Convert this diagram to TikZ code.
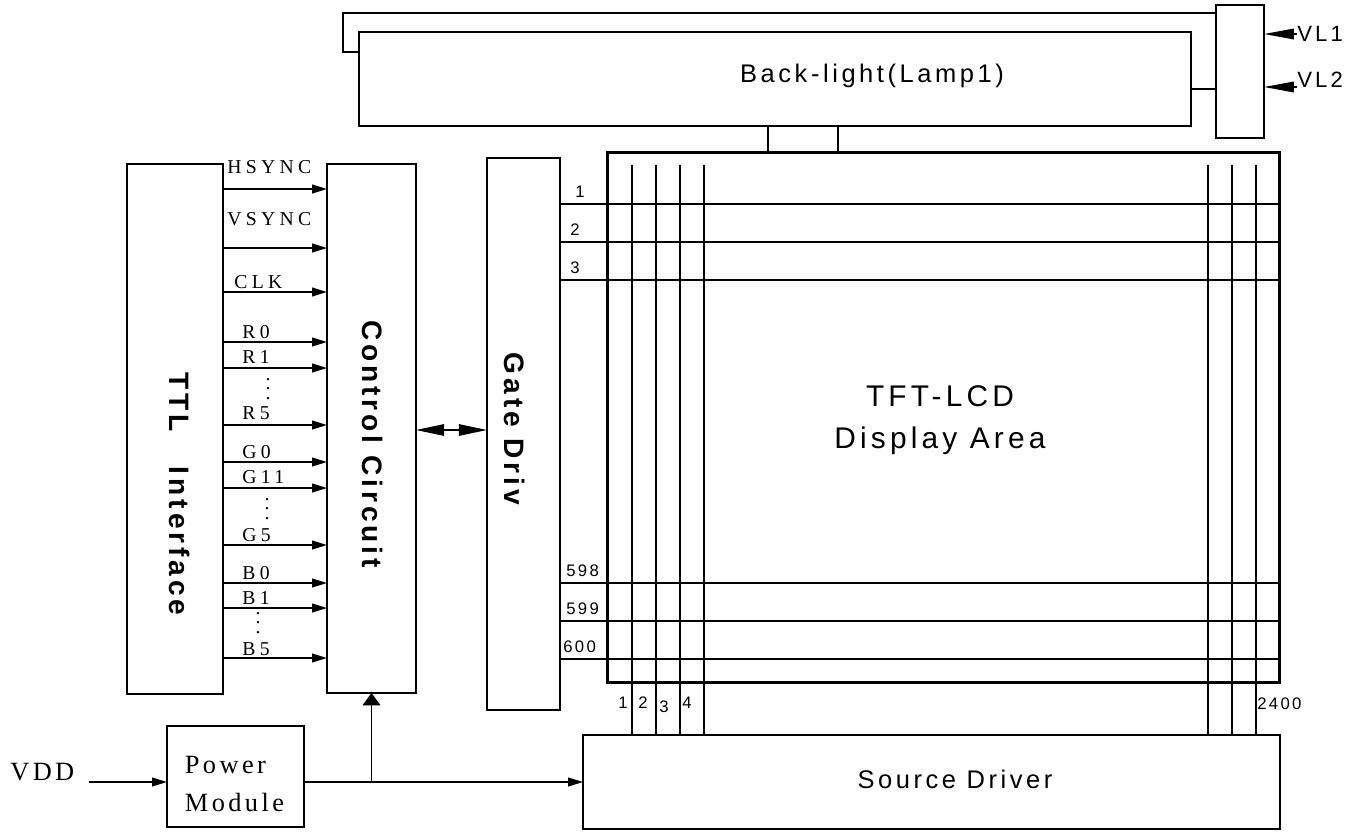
\documentclass[tikz,border=0pt]{standalone}
\usepackage{fontspec}
\setmainfont{Liberation Serif}
\setsansfont{Liberation Sans}
\newfontfamily\sigfont[LetterSpace=22]{Liberation Serif}
\newfontfamily\pwrfont[LetterSpace=13]{Liberation Serif}
\newfontfamily\boxfont[LetterSpace=14]{Liberation Sans}
\newfontfamily\vertfont[LetterSpace=14]{Liberation Sans}
\usetikzlibrary{arrows.meta}
\newcommand\vdotsig{\vbox{\baselineskip=5.4pt\hbox{.}\hbox{.}\hbox{.}}}
\tikzset{
  blk/.style    = {draw, line width=1.1pt, inner sep=0pt, outer sep=0pt},
  wire/.style   = {line width=1.1pt},
  gline/.style  = {line width=0.9pt},
  sig/.style    = {-{Triangle[length=8.5pt,width=5pt]}, line width=0.9pt},
  duo/.style    = {{Triangle[length=16pt,width=6.5pt]}-{Triangle[length=16pt,width=6.5pt]}, line width=0.9pt},
  uparr/.style  = {-{Triangle[length=7pt,width=10pt]}, line width=0.9pt},
  vlarr/.style  = {-{Triangle[length=17pt,width=6pt]}, line width=0.9pt},
  siglab/.style = {anchor=base west, inner sep=0pt, font=\sigfont\fontsize{11.2}{12}\selectfont},
  pwrlab/.style = {font=\pwrfont\fontsize{15}{22}\selectfont},
  numlab/.style = {anchor=base west, inner sep=0pt, font=\boxfont\fontsize{9.5}{11}\selectfont},
  vlab/.style   = {rotate=-90, inner sep=0pt, font=\vertfont\bfseries\fontsize{16}{18}\selectfont},
}

\begin{document}
\begin{tikzpicture}[x=0.02cm, y=-0.02cm]
        \useasboundingbox (0,0) rectangle (1367,832);
        \node[blk, minimum width=16.64cm, minimum height=1.88cm] (lamp) at (775,79) {};
        \node[font=\boxfont\fontsize{14.5}{17}\selectfont] (lamptxt) at (872,76) {Back-light(Lamp1)};
        \node[blk, minimum width=0.96cm, minimum height=2.66cm] (inv) at (1240,71.5) {};
        \node[anchor=west, inner sep=0pt, font=\boxfont\fontsize{12.6}{14}\selectfont] (vl1) at (1297,34) {VL1};
        \node[anchor=base west, inner sep=0pt, font=\boxfont\fontsize{12.6}{14}\selectfont] (vl2) at (1297,87) {VL2};
        \draw[vlarr] (vl1.west) -- (inv.east |- vl1.west);
        \draw[vlarr] (vl2.base west) -- (inv.east |- vl2.base west);
        \draw[wire] (lamp.west |- 0,52) -- (343,52) -- (343,13) -- (inv.west |- 0,13);
        \draw[wire] (lamp.east |- 0,89) -- (inv.west |- 0,89);

        \node[blk, minimum width=1.92cm, minimum height=10.6cm] (ttl) at (175,429) {};
        \node[vlab] (ttltxt) at (180,494) {TTL\hspace{20pt}Interface};
        \node[blk, minimum width=1.78cm, minimum height=10.58cm] (ctrl) at (371.5,428.5) {};
        \node[vlab] (ctrltxt) at (373,444) {Control Circuit};
        \node[blk, minimum width=1.46cm, minimum height=11.04cm] (gate) at (523.5,434) {};
        \node[vlab] (gatetxt) at (515,429) {Gate Driv};
        \node[blk, line width=1.7pt, minimum width=13.46cm, minimum height=10.62cm] (lcd) at (943.5,417.5) {};
        \node[align=center, font=\boxfont\fontsize{17}{23.8}\selectfont] (lcdtxt) at (940,420) {TFT-LCD\\Display Area};
        \node[blk, minimum width=13.94cm, minimum height=1.88cm] (src) at (931.5,782) {};
        \node[font=\boxfont\fontsize{14.5}{17}\selectfont] (srctxt) at (955,779) {Source Driver};
        \node[blk, minimum width=2.74cm, minimum height=2.02cm] (pwr) at (235.5,776.5) {};
        \node[pwrlab, align=left] (pwrtxt) at (234.5,784) {Power\\Module};
        \node[pwrlab, anchor=base west, inner sep=0pt] (vdd) at (10,780) {VDD};

        \foreach \x in {768,838}
            \draw[wire] (lamp.south -| \x,0) -- (lcd.north -| \x,0);

        \foreach \y/\t/\lx/\ly [count=\i] in {189/HSYNC/227/173, 248/VSYNC/227/225, 292/CLK/234/288,
                342/R0/242/338, 368/R1/242/363, 425/R5/242/419, 462/G0/242/458, 488/G11/242/483,
                545/G5/242/541, 583/B0/242/579, 608/B1/242/604, 658/B5/242/655}{
            \draw[sig] (ttl.east |- 0,\y) -- (ctrl.west |- 0,\y);
            \node[siglab] (s\i) at (\lx,\ly) {\t};
        }
        \foreach \x/\y [count=\i] in {268/389, 267/509, 258/623}
            \node[siglab, anchor=center] (d\i) at (\x,\y) {\vdotsig};

        \draw[duo] (ctrl.east |- 0,430) -- (gate.west |- 0,430);

        \foreach \y/\t/\lx/\ly [count=\i] in {204/1/575/197, 242/2/570/235, 280/3/570/273,
                583/598/566/576, 621/599/566/614, 659/600/563/652}{
            \draw[gline] (gate.east |- 0,\y) -- (lcd.east |- 0,\y);
            \node[numlab] (g\i) at (\lx,\ly) {\t};
        }
        \foreach \x in {632,656,680,704,1208,1232,1256}
            \draw[gline] (\x,165) -- (src.north -| \x,0);
        \foreach \x/\ly/\t [count=\i] in {618/708/1, 638/708/2, 659/712/3, 682/708/4, 1257/709/2400}
            \node[numlab] (n\i) at (\x,\ly) {\t};

        \draw[sig, shorten <=8pt] (vdd.east |- src.west) -- (pwr.west |- src.west);
        \draw[sig] (pwr.east |- src.west) -- (src.west);
        \draw[uparr] (ctrl.south |- src.west) -- (ctrl.south);
    \end{tikzpicture}
\end{document}
